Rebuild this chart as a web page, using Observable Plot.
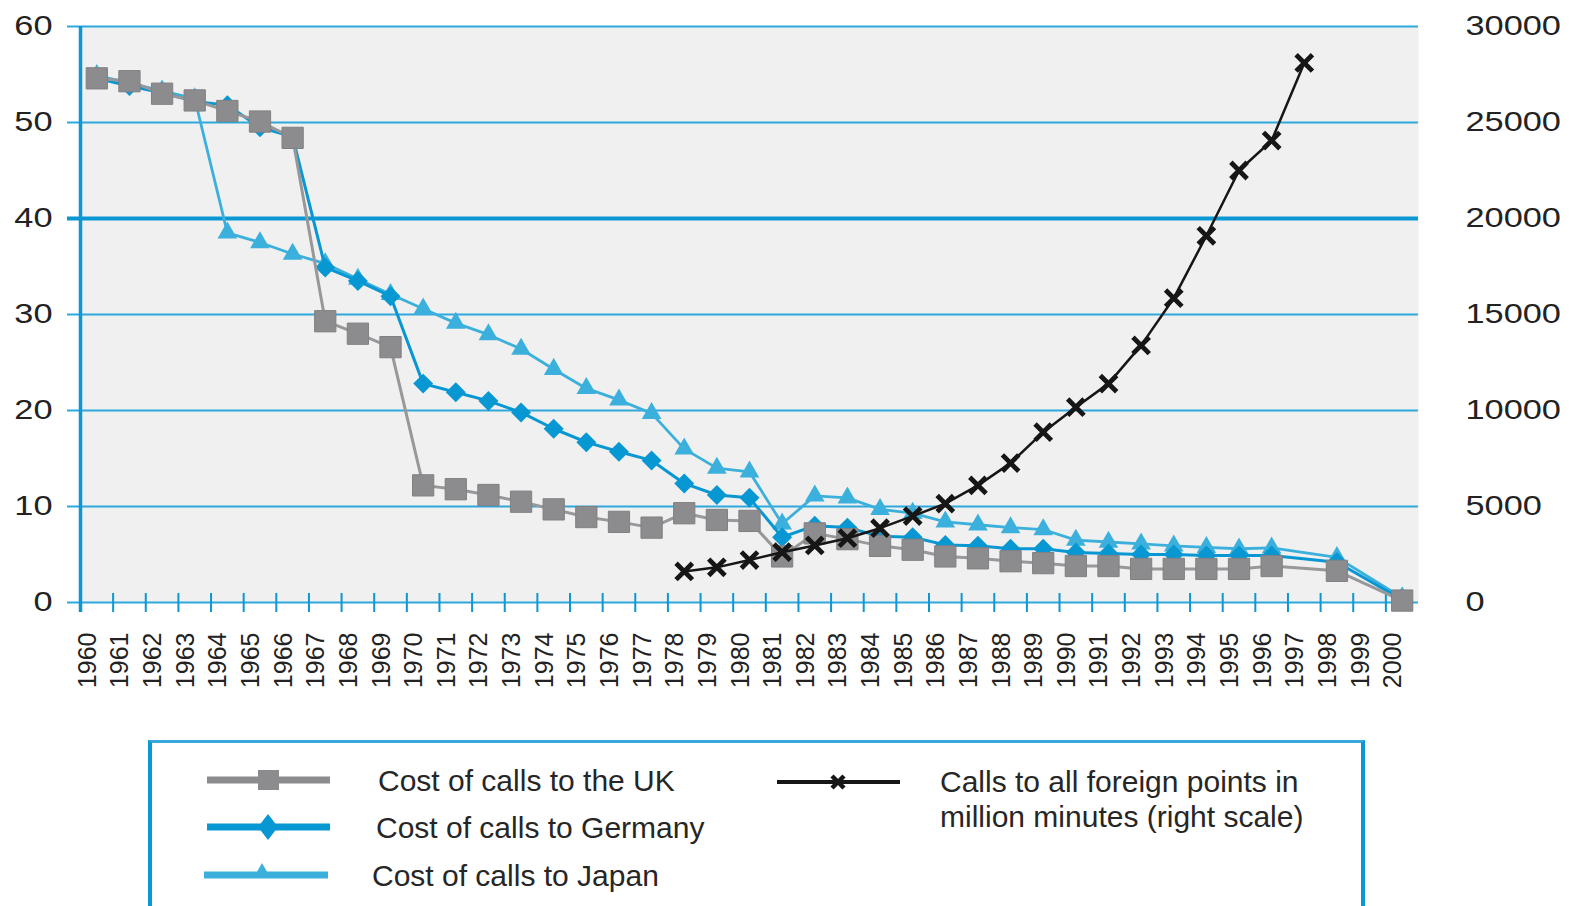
<!DOCTYPE html>
<html>
<head>
<meta charset="utf-8">
<script src="https://cdn.jsdelivr.net/npm/d3@7"></script>
<script src="https://cdn.jsdelivr.net/npm/@observablehq/plot@0.6"></script>
<style>
  html, body { margin: 0; padding: 0; background: #ffffff; overflow: hidden; }
  #chart svg { display: block; }
  #legend { position: relative; width: 1575px; height: 186px; font-family: "Liberation Sans", Arial, sans-serif; color: #262626; }
  #legend .box { position: absolute; left: 148px; top: 20px; width: 1217px; height: 200px; box-sizing: border-box;
                 border-top: 3px solid #38a9dc; border-left: 4px solid #0a97d3; border-right: 4px solid #0a97d3; }
  #legend .txt { position: absolute; font-size: 30px; line-height: 35px; white-space: nowrap; }
  #legend svg { position: absolute; left: 0; top: 0; overflow: visible; }
</style>
</head>
<body>
<div id="chart"></div>
<div id="legend"></div>
<script>
// ---------------- data ----------------
const years = [1960,1961,1962,1963,1964,1965,1966,1967,1968,1969,
               1970,1971,1972,1973,1974,1975,1976,1977,1978,1979,
               1980,1981,1982,1983,1984,1985,1986,1987,1988,1989,
               1990,1991,1992,1993,1994,1995,1996,1997,1998,1999,2000];

const ukCost = [54.6,54.3,53.0,52.3,51.2,50.1,48.4,29.3,28.0,26.6,
                12.2,11.8,11.2,10.5,9.7,8.9,8.4,7.8,9.3,8.6,
                8.5,4.8,7.2,6.6,5.9,5.5,4.8,4.6,4.3,4.1,
                3.8,3.8,3.5,3.5,3.5,3.5,3.8,null,3.3,null,0.2];

const germanyCost = [54.6,53.8,53.1,52.2,51.8,49.5,48.5,34.9,33.5,31.9,
                     22.8,21.9,21.0,19.8,18.1,16.7,15.7,14.8,12.4,11.2,
                     10.9,6.8,8.0,7.8,6.9,6.8,6.0,5.9,5.6,5.6,
                     5.2,5.1,5.0,5.0,4.9,4.9,4.9,null,4.2,null,0.3];

const japanCost = [54.9,54.1,53.3,52.5,38.5,37.5,36.3,35.3,33.7,32.1,
                   30.6,29.1,27.9,26.4,24.3,22.3,21.1,19.7,16.0,14.0,
                   13.6,8.2,11.1,10.9,9.7,9.3,8.4,8.1,7.8,7.6,
                   6.5,6.3,6.1,5.9,5.75,5.6,5.7,null,4.7,null,0.5];

const callYears = [1978,1979,1980,1981,1982,1983,1984,1985,1986,1987,
                   1988,1989,1990,1991,1992,1993,1994,1995,1996,1997];
const callMinutes = [1620,1830,2210,2620,2970,3350,3870,4500,5150,6100,
                     7260,8870,10170,11400,13390,15850,19100,22500,24060,28100];

const leftTicks = [0,10,20,30,40,50,60];
const rightTicks = [0,5000,10000,15000,20000,25000,30000];
const RIGHT_PER_LEFT = 500; // right scale = left scale x 500

const legendLabels = {
  uk: "Cost of calls to the UK",
  de: "Cost of calls to Germany",
  jp: "Cost of calls to Japan",
  calls1: "Calls to all foreign points in",
  calls2: "million minutes (right scale)"
};

// ---------------- build ----------------
const rows = vals => years.map((y, i) => ({year: y, value: vals[i]})).filter(d => d.value != null);
const uk = rows(ukCost), de = rows(germanyCost), jp = rows(japanCost);
const calls = callYears.map((y, i) => ({year: y, value: callMinutes[i] / RIGHT_PER_LEFT}));

const C = {uk: "#8c8c8f", ukLine: "#98989b", de: "#0797d3", jp: "#3cb0dc", calls: "#161616",
           grid: "#2ea7db", axis: "#0a97d3", bg: "#f0f0f0", text: "#222222"};

const chart = Plot.plot({
  width: 1575, height: 720,
  marginLeft: 80, marginRight: 157, marginTop: 26, marginBottom: 118,
  style: {fontFamily: "'Liberation Sans', Arial, sans-serif", background: "#ffffff", color: C.text, overflow: "visible"},
  x: {type: "linear", domain: [years[0] - 0.5, years[years.length - 1] + 0.5], axis: null},
  y: {domain: [leftTicks[0], leftTicks[leftTicks.length - 1]], axis: null},
  marks: [
    Plot.frame({fill: C.bg, stroke: null}),
    Plot.ruleY(leftTicks.filter(d => d !== 40), {y: d => d, stroke: C.grid, strokeWidth: 2, insetLeft: -13}),
    Plot.ruleY([40], {y: d => d, stroke: C.axis, strokeWidth: 4, insetLeft: -13}),
    // x tick marks at year boundaries
    Plot.ruleX(years.slice(1), {x: d => d - 0.5, y1: 0, y2: 0, stroke: C.axis, strokeWidth: 2, insetTop: -9, insetBottom: -10}),
    // left axis line
    Plot.ruleX([years[0] - 0.5], {x: d => d, y1: leftTicks[leftTicks.length - 1], y2: leftTicks[0], stroke: C.axis, strokeWidth: 3.5, insetBottom: -10}),
    // Japan
    Plot.line(jp, {x: "year", y: "value", stroke: C.jp, strokeWidth: 2.8}),
    Plot.dot(jp, {x: "year", y: "value", symbol: "triangle", r: 7.3, fill: C.jp, stroke: "none"}),
    // Germany
    Plot.line(de, {x: "year", y: "value", stroke: C.de, strokeWidth: 3}),
    Plot.dot(de, {x: "year", y: "value", symbol: "diamond2", r: 9, fill: C.de, stroke: "none"}),
    // UK
    Plot.line(uk, {x: "year", y: "value", stroke: C.ukLine, strokeWidth: 3}),
    Plot.dot(uk, {x: "year", y: "value", symbol: "square", r: 12, fill: C.uk, stroke: "#808083", strokeWidth: 1}),
    // Calls (right scale)
    Plot.line(calls, {x: "year", y: "value", stroke: C.calls, strokeWidth: 2.5}),
    Plot.dot(calls, {x: "year", y: "value", symbol: "times", r: 7.5, stroke: C.calls, strokeWidth: 4.8, fill: "none"}),
    // axis labels
    Plot.text(leftTicks, {y: d => d, text: d => String(d), frameAnchor: "left", textAnchor: "end", dx: -28, fontSize: 27, fill: C.text}),
    Plot.text(rightTicks, {y: d => d / RIGHT_PER_LEFT, text: d => String(d), frameAnchor: "right", textAnchor: "start", dx: 47, fontSize: 27, fill: C.text}),
    Plot.text(years, {x: d => d, text: d => String(d), frameAnchor: "bottom", rotate: -90, textAnchor: "end", dy: 30, dx: -1, fontSize: 25, fill: C.text})
  ]
});
document.getElementById("chart").appendChild(chart);

// widen the horizontal axis numerals like the original typeface
const axisNumbers = new Set([...leftTicks, ...rightTicks].map(String));
chart.querySelectorAll("text").forEach(t => {
  if (!axisNumbers.has(t.textContent.trim())) return;
  const len = t.getComputedTextLength();
  if (len > 0) {
    t.setAttribute("textLength", (len * 1.27).toFixed(1));
    t.setAttribute("lengthAdjust", "spacingAndGlyphs");
  }
});

// ---------------- legend (HTML below the SVG) ----------------
const legend = document.getElementById("legend");
legend.innerHTML = `
  <div class="box"></div>
  <svg width="1575" height="186">
    <line x1="207" x2="330" y1="60" y2="60" stroke="${C.uk}" stroke-width="7"/>
    <rect x="258" y="50" width="21" height="20" fill="${C.uk}"/>
    <line x1="207" x2="330" y1="107" y2="107" stroke="${C.de}" stroke-width="7"/>
    <path d="M268,94 L278,107 L268,120 L258,107 Z" fill="${C.de}"/>
    <line x1="204" x2="328" y1="155" y2="155" stroke="${C.jp}" stroke-width="7"/>
    <path d="M262,143 L270,157 L254,157 Z" fill="${C.jp}"/>
    <line x1="777" x2="900" y1="62" y2="62" stroke="${C.calls}" stroke-width="4"/>
    <path d="M832,56 L844,68 M844,56 L832,68" stroke="${C.calls}" stroke-width="4.5"/>
  </svg>
  <div class="txt" style="left:378px; top:43px;">${legendLabels.uk}</div>
  <div class="txt" style="left:376px; top:90px;">${legendLabels.de}</div>
  <div class="txt" style="left:372px; top:138px;">${legendLabels.jp}</div>
  <div class="txt" style="left:940px; top:44px;">${legendLabels.calls1}<br>${legendLabels.calls2}</div>
`;
</script>
</body>
</html>
